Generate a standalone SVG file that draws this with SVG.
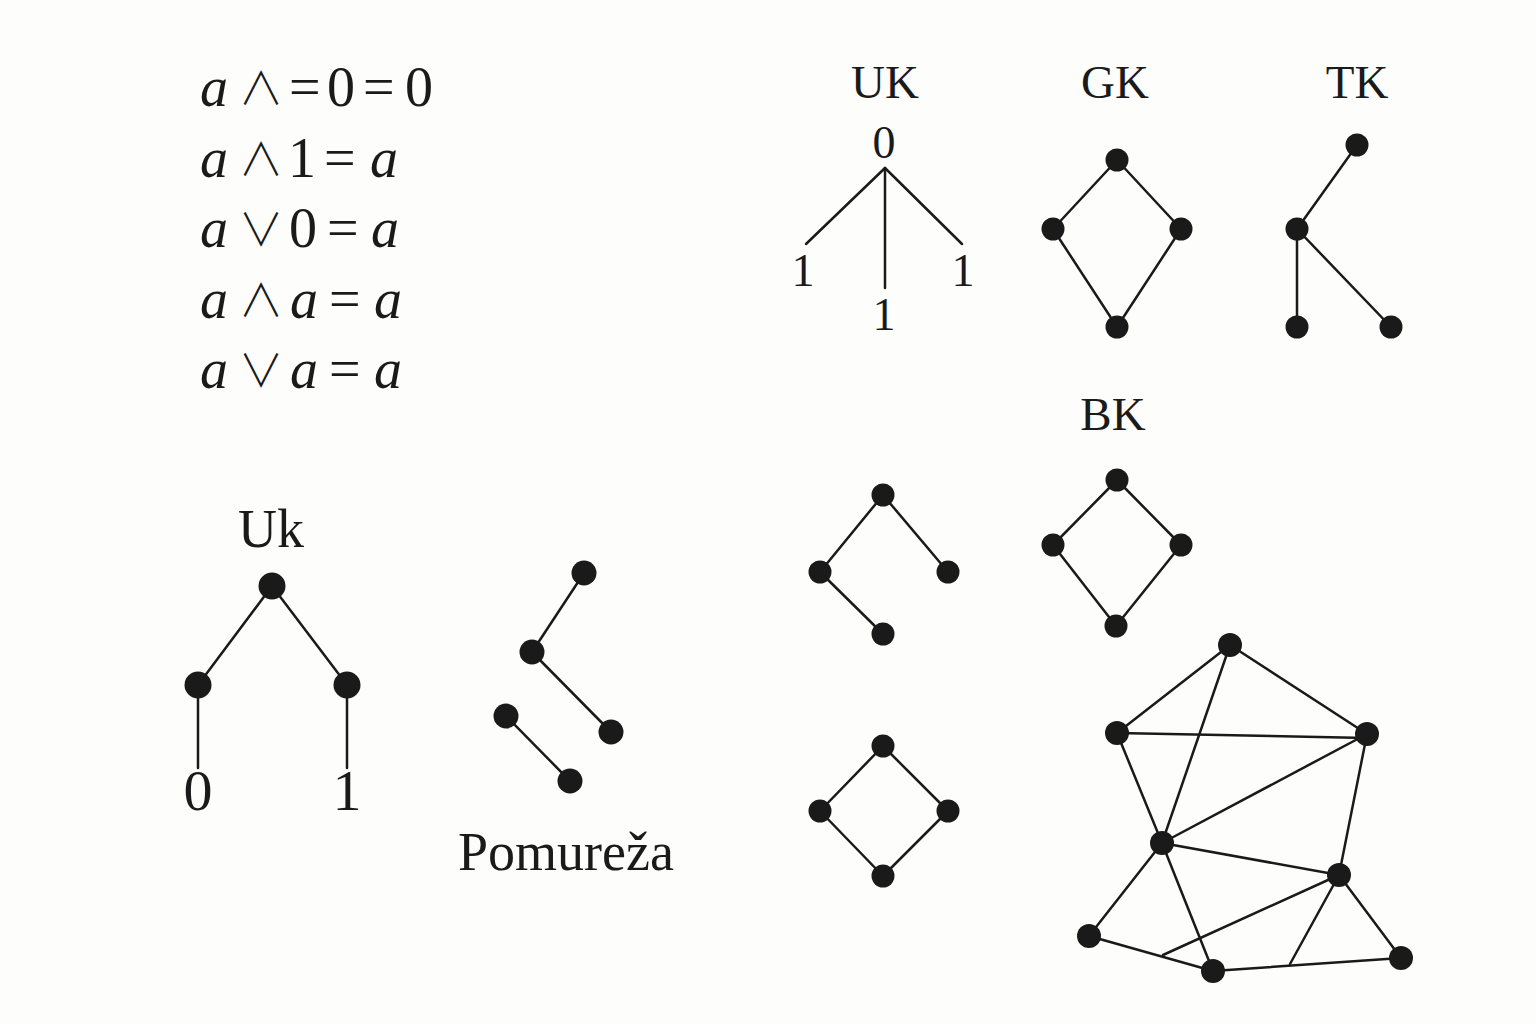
<svg xmlns="http://www.w3.org/2000/svg" width="1536" height="1024" viewBox="0 0 1536 1024">
<style>
.bg{fill:#fdfdfb}
.e{stroke:#1a1a1a;stroke-width:2.5;fill:none;stroke-linecap:round}
.n{fill:#1a1a1a}
.t{font-family:"Liberation Serif","DejaVu Serif",serif;fill:#1a1a1a}
.m{font-family:"Liberation Serif","DejaVu Serif",serif;fill:#1a1a1a;font-size:56px}
.i{font-style:italic}
.op{font-family:"Noto Sans CJK JP","DejaVu Sans",sans-serif;font-weight:300;font-size:45px;text-anchor:middle}
.lbl{font-size:47px;text-anchor:middle}
.num{font-size:46px;text-anchor:middle}
</style>
<rect class="bg" x="0" y="0" width="1536" height="1024"/>
<g id="formulas">
<text class="m" y="106"><tspan class="i" x="200">a</tspan><tspan class="op" x="261" dy="-1">∧</tspan><tspan x="289" dy="1">=</tspan><tspan x="327">0</tspan><tspan x="363">=</tspan><tspan x="405">0</tspan></text>
<text class="m" y="177"><tspan class="i" x="200">a</tspan><tspan class="op" x="261" dy="-1">∧</tspan><tspan x="288" dy="1">1</tspan><tspan x="324">=</tspan><tspan class="i" x="370">a</tspan></text>
<text class="m" y="247"><tspan class="i" x="200">a</tspan><tspan class="op" x="261" dy="-1">∨</tspan><tspan x="289" dy="1">0</tspan><tspan x="327">=</tspan><tspan class="i" x="371">a</tspan></text>
<text class="m" y="318"><tspan class="i" x="200">a</tspan><tspan class="op" x="261" dy="-1">∧</tspan><tspan class="i" x="290" dy="1">a</tspan><tspan x="329">=</tspan><tspan class="i" x="374">a</tspan></text>
<text class="m" y="388"><tspan class="i" x="200">a</tspan><tspan class="op" x="261" dy="-1">∨</tspan><tspan class="i" x="290" dy="1">a</tspan><tspan x="329">=</tspan><tspan class="i" x="374">a</tspan></text>
</g>
<g id="connectors">
<line class="e" x1="885" y1="168" x2="806" y2="244"/>
<line class="e" x1="885" y1="168" x2="885" y2="288"/>
<line class="e" x1="885" y1="168" x2="962" y2="244"/>
<line class="e" x1="1117" y1="160" x2="1053" y2="229"/>
<line class="e" x1="1117" y1="160" x2="1181" y2="229"/>
<line class="e" x1="1053" y1="229" x2="1117" y2="327"/>
<line class="e" x1="1181" y1="229" x2="1117" y2="327"/>
<line class="e" x1="1357" y1="145" x2="1297" y2="229"/>
<line class="e" x1="1297" y1="229" x2="1297" y2="327"/>
<line class="e" x1="1297" y1="229" x2="1391" y2="327"/>
<line class="e" x1="1117" y1="480" x2="1053" y2="545"/>
<line class="e" x1="1117" y1="480" x2="1181" y2="545"/>
<line class="e" x1="1053" y1="545" x2="1116" y2="626"/>
<line class="e" x1="1181" y1="545" x2="1116" y2="626"/>
<line class="e" x1="883" y1="495" x2="820" y2="572"/>
<line class="e" x1="883" y1="495" x2="948" y2="572"/>
<line class="e" x1="820" y1="572" x2="883" y2="634"/>
<line class="e" x1="883" y1="746" x2="820" y2="811"/>
<line class="e" x1="883" y1="746" x2="948" y2="811"/>
<line class="e" x1="820" y1="811" x2="883" y2="876"/>
<line class="e" x1="948" y1="811" x2="883" y2="876"/>
<line class="e" x1="272" y1="586" x2="198" y2="685"/>
<line class="e" x1="272" y1="586" x2="347" y2="685"/>
<line class="e" x1="198" y1="685" x2="198" y2="768"/>
<line class="e" x1="347" y1="685" x2="347" y2="768"/>
<line class="e" x1="584" y1="573" x2="532" y2="652"/>
<line class="e" x1="532" y1="652" x2="611" y2="732"/>
<line class="e" x1="506" y1="716" x2="570" y2="781"/>
<line class="e" x1="1230" y1="645" x2="1117" y2="733"/>
<line class="e" x1="1230" y1="645" x2="1162" y2="843"/>
<line class="e" x1="1230" y1="645" x2="1367" y2="734"/>
<line class="e" x1="1117" y1="733" x2="1367" y2="738"/>
<line class="e" x1="1117" y1="733" x2="1162" y2="843"/>
<line class="e" x1="1367" y1="734" x2="1162" y2="843"/>
<line class="e" x1="1367" y1="734" x2="1339" y2="875"/>
<line class="e" x1="1162" y1="843" x2="1339" y2="875"/>
<line class="e" x1="1162" y1="843" x2="1089" y2="936"/>
<line class="e" x1="1162" y1="843" x2="1213" y2="971"/>
<line class="e" x1="1339" y1="875" x2="1401" y2="958"/>
<line class="e" x1="1089" y1="936" x2="1213" y2="971"/>
<line class="e" x1="1213" y1="971" x2="1401" y2="958"/>
<line class="e" x1="1339" y1="875" x2="1163" y2="955"/>
<line class="e" x1="1339" y1="875" x2="1290" y2="964"/>
</g>
<g id="UK">
<text class="t lbl" x="885" y="98">UK</text>
<text class="t num" x="884" y="158">0</text>
<text class="t num" x="803" y="286">1</text>
<text class="t num" x="884" y="330">1</text>
<text class="t num" x="963" y="286">1</text>
</g>
<g id="GK">
<text class="t lbl" x="1115" y="98">GK</text>
<circle class="n" cx="1117" cy="160" r="11.5"/>
<circle class="n" cx="1053" cy="229" r="11.5"/>
<circle class="n" cx="1181" cy="229" r="11.5"/>
<circle class="n" cx="1117" cy="327" r="11.5"/>
</g>
<g id="TK">
<text class="t lbl" x="1357" y="98">TK</text>
<circle class="n" cx="1357" cy="145" r="11.5"/>
<circle class="n" cx="1297" cy="229" r="11.5"/>
<circle class="n" cx="1297" cy="327" r="11.5"/>
<circle class="n" cx="1391" cy="327" r="11.5"/>
</g>
<g id="BK">
<text class="t lbl" x="1113" y="430">BK</text>
<circle class="n" cx="1117" cy="480" r="11.5"/>
<circle class="n" cx="1053" cy="545" r="11.5"/>
<circle class="n" cx="1181" cy="545" r="11.5"/>
<circle class="n" cx="1116" cy="626" r="11.5"/>
</g>
<g id="midleft">
<circle class="n" cx="883" cy="495" r="11.5"/>
<circle class="n" cx="820" cy="572" r="11.5"/>
<circle class="n" cx="948" cy="572" r="11.5"/>
<circle class="n" cx="883" cy="634" r="11.5"/>
</g>
<g id="diamond">
<circle class="n" cx="883" cy="746" r="11.5"/>
<circle class="n" cx="820" cy="811" r="11.5"/>
<circle class="n" cx="948" cy="811" r="11.5"/>
<circle class="n" cx="883" cy="876" r="11.5"/>
</g>
<g id="Uk">
<text class="t" x="271" y="547" font-size="54" text-anchor="middle">Uk</text>
<circle class="n" cx="272" cy="586" r="13.5"/>
<circle class="n" cx="198" cy="685" r="13.5"/>
<circle class="n" cx="347" cy="685" r="13.5"/>
<text class="t" x="198" y="810" font-size="58" text-anchor="middle">0</text>
<text class="t" x="347" y="810" font-size="58" text-anchor="middle">1</text>
</g>
<g id="Pomureza">
<circle class="n" cx="584" cy="573" r="12.5"/>
<circle class="n" cx="532" cy="652" r="12.5"/>
<circle class="n" cx="611" cy="732" r="12.5"/>
<circle class="n" cx="506" cy="716" r="12.5"/>
<circle class="n" cx="570" cy="781" r="12.5"/>
<text class="t" x="566" y="870" font-size="54" text-anchor="middle">Pomureža</text>
</g>
<g id="graph">
<circle class="n" cx="1230" cy="645" r="12"/>
<circle class="n" cx="1117" cy="733" r="12"/>
<circle class="n" cx="1367" cy="734" r="12"/>
<circle class="n" cx="1162" cy="843" r="12"/>
<circle class="n" cx="1339" cy="875" r="12"/>
<circle class="n" cx="1089" cy="936" r="12"/>
<circle class="n" cx="1213" cy="971" r="12"/>
<circle class="n" cx="1401" cy="958" r="12"/>
</g>
</svg>
